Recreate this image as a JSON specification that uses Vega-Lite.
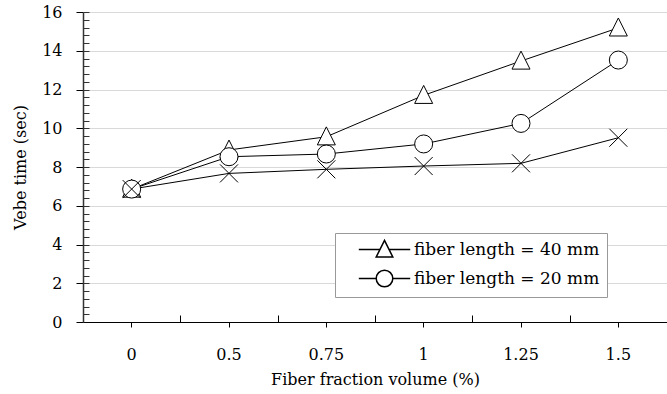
{
  "$schema": "https://vega.github.io/schema/vega-lite/v6.json",
  "width": 584,
  "height": 310,
  "autosize": {"type": "none"},
  "padding": {"left": 83, "top": 12, "right": 0, "bottom": 72},
  "background": "white",
  "config": {
    "font": "DejaVu Serif",
    "view": {"stroke": null},
    "axis": {"labelFont": "DejaVu Serif", "titleFont": "DejaVu Serif", "labelFontSize": 16, "titleFontSize": 16, "labelColor": "black", "titleColor": "black", "titleFontWeight": "normal"},
    "legend": {"labelFont": "DejaVu Serif", "labelFontSize": 17, "labelColor": "black", "labelLimit": 0}
  },
  "data": {
    "values": [
      {"vol": "0", "time": 6.86, "series": "fiber length = 40 mm", "marker": "triangle"},
      {"vol": "0.5", "time": 8.88, "series": "fiber length = 40 mm", "marker": "triangle"},
      {"vol": "0.75", "time": 9.56, "series": "fiber length = 40 mm", "marker": "triangle"},
      {"vol": "1", "time": 11.7, "series": "fiber length = 40 mm", "marker": "triangle"},
      {"vol": "1.25", "time": 13.47, "series": "fiber length = 40 mm", "marker": "triangle"},
      {"vol": "1.5", "time": 15.18, "series": "fiber length = 40 mm", "marker": "triangle"},
      {"vol": "0", "time": 6.86, "series": "fiber length = 20 mm", "marker": "circle"},
      {"vol": "0.5", "time": 8.53, "series": "fiber length = 20 mm", "marker": "circle"},
      {"vol": "0.75", "time": 8.67, "series": "fiber length = 20 mm", "marker": "circle"},
      {"vol": "1", "time": 9.19, "series": "fiber length = 20 mm", "marker": "circle"},
      {"vol": "1.25", "time": 10.25, "series": "fiber length = 20 mm", "marker": "circle"},
      {"vol": "1.5", "time": 13.52, "series": "fiber length = 20 mm", "marker": "circle"},
      {"vol": "0", "time": 6.86, "series": "plain", "marker": "cross"},
      {"vol": "0.5", "time": 7.67, "series": "plain", "marker": "cross"},
      {"vol": "0.75", "time": 7.88, "series": "plain", "marker": "cross"},
      {"vol": "1", "time": 8.05, "series": "plain", "marker": "cross"},
      {"vol": "1.25", "time": 8.19, "series": "plain", "marker": "cross"},
      {"vol": "1.5", "time": 9.51, "series": "plain", "marker": "cross"}
    ]
  },
  "layer": [
    {
      "mark": {"type": "line", "stroke": "black", "strokeWidth": 1},
      "encoding": {
        "x": {"field": "vol", "type": "ordinal", "sort": ["0", "0.5", "0.75", "1", "1.25", "1.5"],
          "scale": {"type": "band", "paddingInner": 0, "paddingOuter": 0},
          "axis": {"orient": "bottom", "title": "Fiber fraction volume (%)", "labelAngle": 0, "tickSize": 5, "tickColor": "black", "domainColor": "black", "labelPadding": 19, "titlePadding": 9, "grid": false}},
        "y": {"field": "time", "type": "quantitative", "scale": {"domain": [0, 16], "nice": false, "zero": true},
          "axis": {"orient": "left", "values": [0, 2, 4, 6, 8, 10, 12, 14, 16], "title": "Vebe time (sec)", "tickSize": 7, "tickColor": "black", "domainColor": "#333", "domainWidth": 1.5, "grid": true, "gridColor": "#d9d9d9", "labelPadding": 14, "titlePadding": 13}},
        "detail": {"field": "series", "type": "nominal"}
      }
    },
    {
      "mark": {"type": "point", "filled": true, "fill": "white", "stroke": "black", "strokeWidth": 1, "opacity": 1, "size": 324},
      "encoding": {
        "x": {"field": "vol", "type": "ordinal", "sort": ["0", "0.5", "0.75", "1", "1.25", "1.5"],
          "axis": {"orient": "bottom", "tickBand": "extent", "tickSize": -7, "tickColor": "black", "labels": false, "domain": false, "title": null, "grid": false}},
        "y": {"field": "time", "type": "quantitative",
          "axis": {"orient": "left", "values": [0.4, 0.8, 1.2, 1.6, 2, 2.4, 2.8, 3.2, 3.6, 4, 4.4, 4.8, 5.2, 5.6, 6, 6.4, 6.8, 7.2, 7.6, 8, 8.4, 8.8, 9.2, 9.6, 10, 10.4, 10.8, 11.2, 11.6, 12, 12.4, 12.8, 13.2, 13.6, 14, 14.4, 14.8, 15.2, 15.6, 16], "tickSize": -6, "tickColor": "#333", "labels": false, "domain": false, "title": null, "grid": false}},
        "shape": {"field": "marker", "type": "nominal",
          "scale": {"domain": ["triangle", "circle", "cross"], "range": ["M0,-1.1L1,0.9L-1,0.9Z", "circle", "M-1,-1L1,1M-1,1L1,-1"]},
          "legend": null}
      }
    },
    {
      "mark": {"type": "point", "filled": true, "fill": "white", "stroke": "black", "opacity": 0, "fillOpacity": 0, "strokeOpacity": 0, "size": 0},
      "encoding": {
        "x": {"field": "vol", "type": "ordinal", "sort": ["0", "0.5", "0.75", "1", "1.25", "1.5"], "axis": null},
        "y": {"field": "time", "type": "quantitative", "axis": null},
        "shape": {"field": "series", "type": "nominal",
          "scale": {"domain": ["fiber length = 40 mm", "fiber length = 20 mm", "plain"], "range": ["M-3.1,0L-0.6,0M0.6,0L3.1,0M0,-1.1L1,0.9L-1,0.9Z", "M-3.1,0L-1,0M1,0L3.1,0M-1,0A1,1,0,1,0,1,0A1,1,0,1,0,-1,0Z", "M-1,-1L1,1M-1,1L1,-1"]},
          "legend": {
            "values": ["fiber length = 40 mm", "fiber length = 20 mm"],
            "title": null,
            "orient": "none",
            "legendX": 252,
            "legendY": 221,
            "padding": 7,
            "strokeColor": "#999",
            "fillColor": "white",
            "symbolSize": 275,
            "symbolOffset": 33,
            "labelOffset": 20,
            "rowPadding": 7,
            "encode": {
              "symbols": {
                "fill": {"value": "white"},
                "stroke": {"value": "black"},
                "strokeWidth": {"value": 1},
                "opacity": {"value": 1},
                "fillOpacity": {"value": 1},
                "strokeOpacity": {"value": 1},
                "size": {"value": 275}
              }
            }
          }
        }
      }
    }
  ],
  "resolve": {"axis": {"x": "independent", "y": "independent"}, "scale": {"shape": "independent"}}
}
